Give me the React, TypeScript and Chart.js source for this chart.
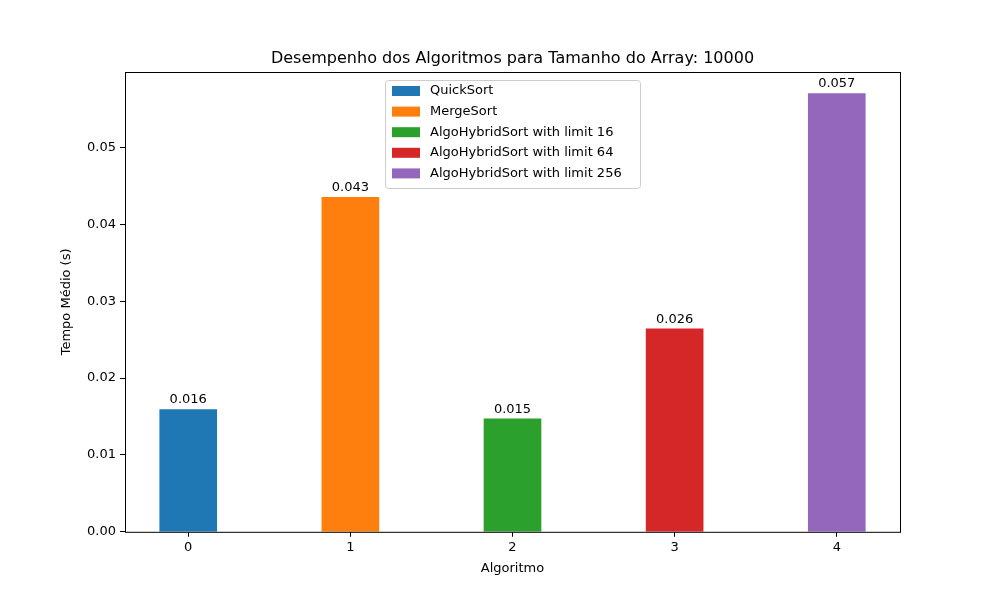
import { useRef, useEffect } from 'react';
import { Chart, registerables } from 'chart.js';

Chart.register(...registerables);

const algorithms = ['QuickSort', 'MergeSort', 'AlgoHybridSort with limit 16', 'AlgoHybridSort with limit 64', 'AlgoHybridSort with limit 256'];
const avgTimes = [0.0159, 0.0435, 0.0147, 0.0264, 0.0570];
const colors = ['#1f77b4', '#ff7f0e', '#2ca02c', '#d62728', '#9467bd'];
const xTicks = [0, 1, 2, 3, 4];
const yTicks = [0, 0.01, 0.02, 0.03, 0.04, 0.05];
const chartTitle = 'Desempenho dos Algoritmos para Tamanho do Array: 10000';

const FONT = 'DejaVu Sans, sans-serif';

const extras = {
  id: 'extras',
  afterDatasetsDraw(chart: any) {
    const ctx = chart.ctx;
    const a = chart.chartArea;
    ctx.save();
    // frame
    ctx.strokeStyle = '#000';
    ctx.lineWidth = 1;
    ctx.strokeRect(a.left + 0.5, a.top + 0.5, a.right - a.left, a.bottom - a.top);
    // title
    ctx.fillStyle = '#000';
    ctx.font = `16px ${FONT}`;
    ctx.textAlign = 'center';
    ctx.textBaseline = 'bottom';
    ctx.fillText(chartTitle, (a.left + a.right) / 2, a.top - 5);
    // legend
    ctx.font = `13px ${FONT}`;
    const lx = 385, ly = 80, lw = 255, lh = 108;
    ctx.fillStyle = 'rgba(255,255,255,0.8)';
    ctx.strokeStyle = '#ccc';
    ctx.beginPath();
    ctx.roundRect(lx + 0.5, ly + 0.5, lw, lh, 3);
    ctx.fill();
    ctx.stroke();
    ctx.textAlign = 'left';
    ctx.textBaseline = 'middle';
    algorithms.forEach((name, i) => {
      const y = ly + 11 + i * 20.6;
      ctx.fillStyle = colors[i];
      ctx.fillRect(lx + 7, y - 5, 28, 10);
      ctx.fillStyle = '#000';
      ctx.fillText(name, lx + 45, y);
    });
    // value labels
    ctx.fillStyle = '#000';
    ctx.textAlign = 'center';
    ctx.textBaseline = 'bottom';
    chart.data.datasets.forEach((_: any, i: number) => {
      const el = chart.getDatasetMeta(i).data[0];
      ctx.fillText(avgTimes[i].toFixed(3), el.x, el.y - 3);
    });
    ctx.restore();
  },
};

const App = () => {
  const chartRef = useRef<HTMLCanvasElement | null>(null);

  useEffect(() => {
    document.body.style.margin = '0';
    const chart = new Chart(chartRef.current!, {
      type: 'bar',
      data: {
        datasets: algorithms.map((name, i) => ({
          label: name,
          data: [{ x: i, y: avgTimes[i] }],
          backgroundColor: colors[i],
          barThickness: 57,
          grouped: false,
        })),
      },
      options: {
        animation: false,
        responsive: false,
        layout: { padding: { top: 72, right: 100, left: 55, bottom: 22 } },
        plugins: {
          legend: { display: false },
          tooltip: { enabled: false },
          title: { display: false },
        },
        scales: {
          x: {
            type: 'linear',
            offset: false,
            min: -0.39,
            max: 4.39,
            afterBuildTicks: (s: any) => { s.ticks = xTicks.map((v) => ({ value: v })); },
            grid: { drawOnChartArea: false, tickLength: 5, color: '#000', offset: false },
            border: { display: false },
            ticks: { color: '#000', font: { family: FONT, size: 13 }, padding: 3 },
            title: { display: true, text: 'Algoritmo', color: '#000', font: { family: FONT, size: 13 }, padding: 2 },
          },
          y: {
            min: 0,
            max: 0.0598,
            afterBuildTicks: (s: any) => { s.ticks = yTicks.map((v) => ({ value: v })); },
            afterFit: (s: any) => { s.width = 70; },
            grid: { drawOnChartArea: false, tickLength: 5, color: '#000' },
            border: { display: false },
            ticks: { color: '#000', font: { family: FONT, size: 13 }, padding: 4, callback: (v: any) => Number(v).toFixed(2) },
            title: { display: true, text: 'Tempo Médio (s)', color: '#000', font: { family: FONT, size: 13 }, padding: 4 },
          },
        },
      },
      plugins: [extras],
    });
    return () => {
      chart.destroy();
    };
  }, []);

  return <canvas ref={chartRef} width={1000} height={600} />;
};

export default App;
